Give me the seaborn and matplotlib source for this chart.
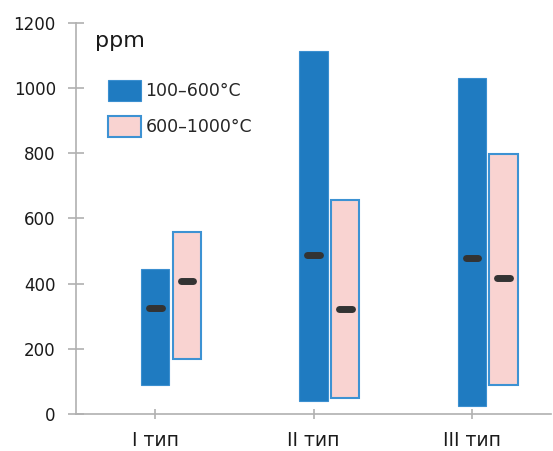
import matplotlib
matplotlib.use("Agg")
import matplotlib.pyplot as plt
import seaborn as sns
import numpy as np
from matplotlib.patches import Patch

categories = ["I тип", "II тип", "III тип"]
series = ["100–600°C", "600–1000°C"]
low_100_600 = [90, 40, 25]
high_100_600 = [445, 1115, 1030]
med_100_600 = [325, 488, 478]
low_600_1000 = [168, 50, 90]
high_600_1000 = [558, 657, 798]
med_600_1000 = [407, 322, 416]
yticks = [0, 200, 400, 600, 800, 1000, 1200]

sns.set_theme(style="white")
plt.rcParams["font.family"] = ["DejaVu Sans"]

fig = plt.figure(figsize=(5.53, 4.51), dpi=100)
ax = fig.add_axes([76/553, 1-414/451, (551-76)/553, (414-23)/451])

blue = "#1f7bc1"
pink_fill = "#f9d3d1"
pink_edge = "#3d92d3"
w = 0.177
off = 0.2
x = np.arange(len(categories))

ax.bar(x, np.array(high_100_600)-np.array(low_100_600), bottom=low_100_600,
       width=w, color=blue, edgecolor="#3b8fd0", linewidth=0.8, zorder=2)
ax.bar(x+off, np.array(high_600_1000)-np.array(low_600_1000), bottom=low_600_1000,
       width=w, color=pink_fill, edgecolor=pink_edge, linewidth=1.5, zorder=2)

mw = 0.04
for xi, m in zip(x, med_100_600):
    ax.plot([xi-mw, xi+mw], [m, m], color="#333333", lw=5, solid_capstyle="round", zorder=3)
for xi, m in zip(x+off, med_600_1000):
    ax.plot([xi-mw, xi+mw], [m, m], color="#333333", lw=5, solid_capstyle="round", zorder=3)

ax.set_xlim(-0.5, 2.5)
ax.set_ylim(0, 1200)
ax.set_yticks(yticks)
ax.set_yticklabels([str(v) for v in yticks], fontsize=12, color="#1a1a1a")
ax.set_xticks(x)
ax.set_xticklabels(categories, fontsize=13.5, color="#1a1a1a")
sns.despine(ax=ax)
for s in ["left", "bottom"]:
    ax.spines[s].set_color("#b0b0b0")
    ax.spines[s].set_linewidth(1.2)
ax.tick_params(axis="both", left=True, bottom=True, direction="inout", width=1.2, color="#b0b0b0")
ax.tick_params(axis="y", length=11, pad=9)
ax.tick_params(axis="x", length=7, pad=9)

fig.text(95/553, 1-47/451, "ppm", fontsize=16, color="#1a1a1a", va="baseline", ha="left")

handles = [Patch(facecolor=blue, edgecolor="#3b8fd0", lw=0.8),
           Patch(facecolor=pink_fill, edgecolor=pink_edge, lw=1.5)]
fig.legend(handles, series, loc="upper left", bbox_to_anchor=(108/553, 1-80/451),
           bbox_transform=fig.transFigure, frameon=False, fontsize=12.5,
           handlelength=1.9, handleheight=1.5, handletextpad=0.25, labelspacing=0.85,
           borderpad=0, borderaxespad=0)

fig.savefig("out.png", dpi=100)
